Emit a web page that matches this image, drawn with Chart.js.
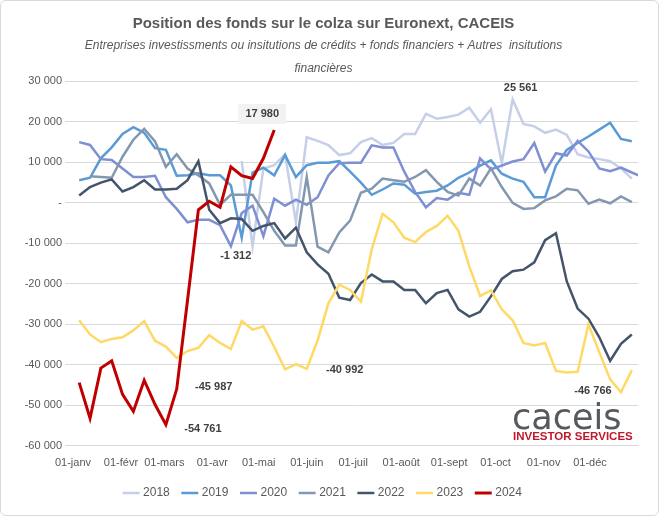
<!DOCTYPE html>
<html><head><meta charset="utf-8">
<script src="https://cdn.jsdelivr.net/npm/chart.js@4"></script>
<style>
body{margin:0;background:#fff;}
#wrap{position:relative;width:657px;height:514px;border:1px solid #d9d9d9;border-radius:6px;}
#logo{position:absolute;left:511px;top:399px;font-family:"DejaVu Sans",sans-serif;color:#555a5e;font-size:35px;letter-spacing:0px;line-height:34px;}
#logo2{position:absolute;left:512px;top:429px;font-family:"Liberation Sans",sans-serif;color:#c0182b;font-size:11.5px;font-weight:bold;letter-spacing:0px;}
</style></head><body>
<div id="wrap"><canvas id="c" width="657" height="514"></canvas>
<div id="logo">caceis</div><div id="logo2">INVESTOR SERVICES</div></div>
<script>
const years=['2018','2019','2020','2021','2022','2023','2024'];
const monthDays=[0,31,59,90,120,151,181,212,243,273,304,334];
const monthLabels=['01-janv','01-févr','01-mars','01-avr','01-mai','01-juin','01-juil','01-août','01-sept','01-oct','01-nov','01-déc'];
const yTicks=[30000,20000,10000,0,-10000,-20000,-30000,-40000,-50000,-60000];
const N=null;
const s2018=[N,N,N,N,N,N,N,N,N,N,N,N,N,N,N,10300,-10700,8500,9300,12000,-4800,16200,15300,14300,11800,12250,15000,16000,14300,14800,17000,17000,22000,20800,21200,21800,23500,19800,23100,9800,25561,19500,18900,17300,18100,16800,12000,11200,10800,10300,8500,6000];
const s2019=[5600,6200,11000,13700,17000,18700,17300,13500,13100,6700,6800,7300,6800,6800,4300,-8600,7500,8700,6800,11800,6400,9300,9900,9900,10300,7700,5000,2000,3300,4800,4500,2250,2700,3000,4300,6200,7500,9200,10500,7200,6000,5200,1400,1400,9200,13100,14800,16400,18100,19800,15800,15200];
const s2020=[15000,14300,10800,10600,8500,6400,6400,6700,1400,-1500,-4800,-4200,-4200,-5500,-10700,-2500,-700,-8200,1000,-700,800,-500,1400,6800,9800,9900,9900,14200,13700,13700,7700,2700,-1100,1200,800,2500,2000,11000,8300,9200,10200,10800,14800,7700,12250,11700,15300,12700,8500,7800,8700,7500,6400];
const s2021=[N,6600,6400,6200,11400,15600,18300,15200,8900,12000,8500,6800,4800,-500,2000,2000,2000,-2300,-6900,-10500,-10500,6400,-10800,-12200,-7300,-4400,2500,3500,6000,5600,5200,6400,8100,5200,2700,1800,6000,4300,8500,3900,0,-1500,-1300,600,1600,3500,3100,-200,800,-100,1600,200];
const s2022=[1800,3900,5000,5800,2800,3900,5600,3300,3300,3500,5600,10300,-1700,-5000,-3800,-4000,-6900,-5700,-5000,-8800,-6100,-12200,-15200,-17500,-23400,-24000,-19800,-17700,-19400,-19400,-21500,-21500,-24800,-22300,-21500,-26300,-28100,-26900,-23100,-18800,-16900,-16500,-14700,-9200,-7500,-19400,-26100,-28600,-33200,-39000,-34800,-32500];
const s2023=[-29000,-32500,-34400,-33600,-33200,-31500,-29200,-34100,-35500,-38300,-36600,-35800,-32700,-34600,-36100,-29200,-31300,-30500,-35600,-41100,-39800,-40992,-34000,-24800,-20200,-21500,-24400,-11500,-2700,-4800,-8600,-9700,-7200,-5700,-3200,-6900,-15700,-23000,-21600,-26300,-29000,-34600,-35200,-34600,-41500,-41900,-41700,-30000,-36900,-43600,-46766,-41300];
const s2024=[-44400,-53200,-40800,-39000,-47300,-51500,-43800,-49800,-54761,-45987,-24000,-1700,400,-1100,8900,6700,6000,11000,17980];
const series=[s2018,s2019,s2020,s2021,s2022,s2023,s2024];
const colors=['#c5cfe8','#5b9bd5','#7f8fd3','#8497b0','#44546a','#ffd966','#c00000'];
const labelsTxt=[{w:18,v:17980,t:'17 980',dx:-12,dy:-16,box:true},{w:8,v:-54761,t:'-54 761',dx:37,dy:4},{w:9,v:-45987,t:'-45 987',dx:37,dy:-2},{w:15,v:-8500,t:'-1 312',dx:-6,dy:19},{w:21,v:-40992,t:'-40 992',dx:38,dy:1},{w:40,v:25561,t:'25 561',dx:8,dy:-11},{w:50,v:-46766,t:'-46 766',dx:-28,dy:-1}];
const fmt=v=>v===0?'-':(v<0?'-':'')+Math.abs(v).toLocaleString('fr-FR').replace(/\s/g,' ');
const datasets=series.map((s,i)=>({label:years[i],data:s.map((v,w)=>({x:4+7*w,y:v})),borderColor:colors[i],backgroundColor:colors[i],borderWidth:i===6?3:2.5,pointRadius:0,tension:0,order:7-i,spanGaps:false}));
const lbl={id:'lbl',afterDatasetsDraw(ch){const c=ch.ctx,x=ch.scales.x,y=ch.scales.y;c.save();c.font='bold 11px "Liberation Sans",Arial';c.textAlign='center';c.textBaseline='middle';
labelsTxt.forEach(l=>{const px=x.getPixelForValue(4+7*l.w)+l.dx,py=y.getPixelForValue(l.v)+l.dy;if(l.box){const wd=c.measureText(l.t).width+14;c.fillStyle='#f2f2f2';c.fillRect(px-wd/2,py-10,wd,20);}c.fillStyle='#404040';c.fillText(l.t,px,py);});c.restore();}};
new Chart(document.getElementById('c'),{type:'line',data:{datasets},plugins:[lbl],options:{responsive:false,animation:false,
layout:{padding:{left:8,right:20,top:4,bottom:6}},
plugins:{legend:{position:'bottom',labels:{usePointStyle:true,pointStyle:'line',boxWidth:30,color:'#595959',font:{size:12,family:'"Liberation Sans",Arial'},padding:14,sort:(a,b)=>a.datasetIndex-b.datasetIndex}},
title:{display:true,text:'Position des fonds sur le colza sur Euronext, CACEIS',color:'#595959',font:{size:15,weight:'bold',family:'"Liberation Sans",Arial'},padding:{top:10,bottom:2}},
subtitle:{display:true,text:['Entreprises investissments ou insitutions de crédits + fonds financiers + Autres  insitutions','financières'],color:'#595959',font:{size:12,style:'italic',family:'"Liberation Sans",Arial',lineHeight:1.85},padding:{bottom:2}},tooltip:{enabled:false}},
scales:{x:{type:'linear',min:0,max:365,afterBuildTicks:s=>{s.ticks=monthDays.map(v=>({value:v}));},ticks:{autoSkip:false,maxRotation:0,color:'#595959',font:{size:11,family:'"Liberation Sans",Arial'},callback:(v)=>monthLabels[monthDays.indexOf(v)]},grid:{display:false},border:{color:'#d9d9d9'}},
y:{min:-60000,max:30000,afterBuildTicks:s=>{s.ticks=yTicks.map(v=>({value:v}));},afterFit:s=>{s.width=64;},ticks:{color:'#595959',font:{size:11,family:'"Liberation Sans",Arial'},callback:v=>fmt(v)},grid:{color:'#d9d9d9'},border:{display:false}}}}});
</script></body></html>
